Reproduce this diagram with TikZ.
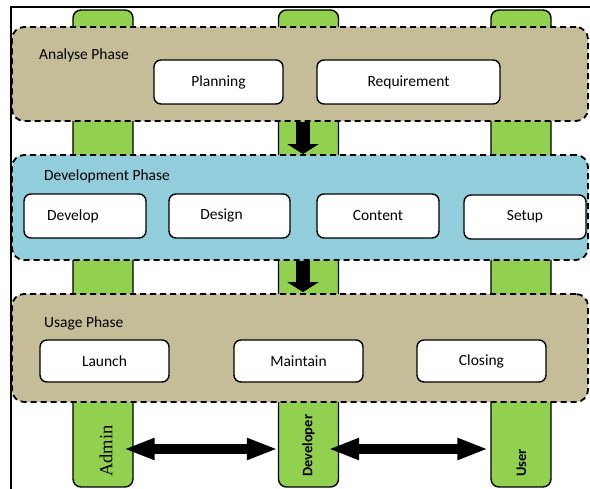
\documentclass[tikz,border=0pt]{standalone}
\usepackage{fontspec}
\setmainfont{Carlito}
\newfontfamily\timesf{Liberation Serif}
\usetikzlibrary{arrows.meta,calc}
\definecolor{bargreen}{HTML}{92D050}
\definecolor{phasetan}{HTML}{C4BD97}
\definecolor{phaseblue}{HTML}{92CDDC}
\begin{document}
\begin{tikzpicture}[x=1pt,y=-1pt,
  bar/.style={draw=black,line width=1.4pt,fill=bargreen,rounded corners=8pt,inner sep=0,minimum width=60pt,minimum height=477pt},
  phase/.style={draw=black,line width=1.8pt,dash pattern=on 6pt off 4pt,rounded corners=12pt,inner sep=0,minimum width=576pt},
  task/.style={draw=black,line width=1.4pt,fill=white,rounded corners=7pt,inner sep=0,minimum height=44pt,font=\fontsize{15.5}{18}\selectfont},
  phaselbl/.style={anchor=west,inner sep=0,font=\fontsize{15.5}{18}\selectfont},
  rolelbl/.style={rotate=90,anchor=west,inner sep=0,font=\bfseries\fontsize{14.5}{17}\selectfont},
  blockarrow/.style={line width=14pt,-{Triangle[width=31pt,length=10pt]}},
  dblarrow/.style={line width=10pt,{Triangle[width=20pt,length=31pt]}-{Triangle[width=20pt,length=31pt]}}]
\useasboundingbox (0,0) rectangle (590,489);
% frame
\draw[line width=2pt] (11,489) -- (11,7) -- (590,7);
% role bars
\node[bar] (admin) at (103,248.5) {};
\node[bar] (developer) at (308.5,248.5) {};
\node[bar] (user) at (521,248.5) {};
% phases
\node[phase,fill=phasetan,minimum height=94pt] (analyse) at (300,74) {};
\node[phase,fill=phaseblue,minimum height=105pt] (dev) at (300,207.5) {};
\node[phase,fill=phasetan,minimum height=108pt] (usage) at (300,348) {};
\node[phaselbl] (analyselbl) at (39,55) {Analyse Phase};
\node[phaselbl] (devlbl) at (44,176) {Development Phase};
\node[phaselbl] (usagelbl) at (44,323) {Usage Phase};
% tasks
\node[task,minimum width=129pt] (planning) at (218.5,82) {Planning};
\node[task,minimum width=183pt] (requirement) at (408.5,82) {Requirement};
\node[task,minimum width=122pt] (develop) at (85,216) {\raisebox{-1pt}{Develop}\hspace*{24pt}};
\node[task,minimum width=121pt] (design) at (229.5,216) {\raisebox{1.5pt}{Design}\hspace*{16pt}};
\node[task,minimum width=122pt] (content) at (378,216) {Content};
\node[task,minimum width=122pt] (setup) at (525,217) {Setup};
\node[task,minimum width=129pt,minimum height=42pt] (launch) at (104.5,361) {Launch};
\node[task,minimum width=129pt,minimum height=42pt] (maintain) at (298.5,361) {Maintain};
\node[task,minimum width=129pt,minimum height=42pt] (closing) at (481.5,361) {Closing};
% phase arrows
\draw[blockarrow] ([xshift=3pt]analyse.south) -- ([xshift=3pt]dev.north);
\draw[blockarrow] ([xshift=3pt]dev.south) -- ([xshift=3pt,yshift=1pt]usage.north);
% role arrows
\draw[dblarrow] ($(admin.east)+(-10,200.5)$) -- ($(developer.west)+(0,200.5)$);
\draw[dblarrow] ($(developer.east)+(-11,200.5)$) -- ($(user.west)+(-2,200.5)$);
% role labels
\node[rotate=90,anchor=west,inner sep=0,font=\timesf\fontsize{18.5}{20}\selectfont] (adminlbl) at (106,477) {Admin};
\node[rolelbl] (developerlbl) at (308.5,477) {Developer};
\node[rolelbl] (userlbl) at (521.5,477) {User};
\end{tikzpicture}
\end{document}
